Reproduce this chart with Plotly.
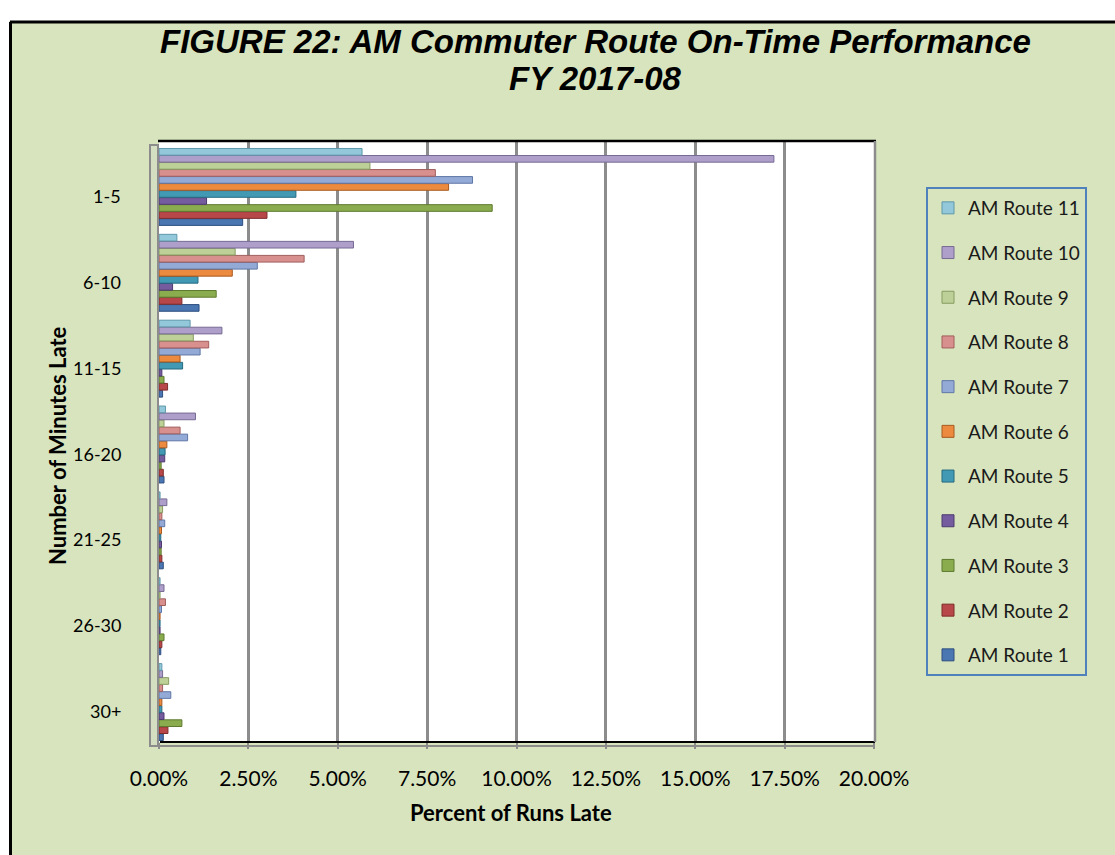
import plotly.graph_objects as go

categories = ["1-5", "6-10", "11-15", "16-20", "21-25", "26-30", "30+"]
routes = ["AM Route 1", "AM Route 2", "AM Route 3", "AM Route 4", "AM Route 5", "AM Route 6",
          "AM Route 7", "AM Route 8", "AM Route 9", "AM Route 10", "AM Route 11"]

# percent of runs late, per category (1-5 ... 30+)
route1 = [2.34, 1.12, 0.10, 0.14, 0.12, 0.05, 0.12]
route2 = [3.02, 0.64, 0.24, 0.12, 0.08, 0.08, 0.25]
route3 = [9.32, 1.60, 0.14, 0.06, 0.06, 0.14, 0.64]
route4 = [1.33, 0.38, 0.08, 0.16, 0.07, 0.03, 0.14]
route5 = [3.83, 1.09, 0.66, 0.17, 0.05, 0.03, 0.08]
route6 = [8.10, 2.05, 0.59, 0.22, 0.07, 0.03, 0.08]
route7 = [8.77, 2.75, 1.15, 0.80, 0.16, 0.07, 0.33]
route8 = [7.73, 4.06, 1.39, 0.59, 0.08, 0.18, 0.10]
route9 = [5.90, 2.13, 0.96, 0.14, 0.10, 0.03, 0.27]
route10 = [17.20, 5.44, 1.76, 1.02, 0.22, 0.14, 0.10]
route11 = [5.68, 0.50, 0.87, 0.18, 0.03, 0.03, 0.08]
series = [route1, route2, route3, route4, route5, route6, route7, route8, route9, route10, route11]

x_ticks = [0, 2.5, 5, 7.5, 10, 12.5, 15, 17.5, 20]

title_line1 = "FIGURE 22: AM Commuter Route On-Time Performance"
title_line2 = "FY 2017-08"

colors = ["#4A76B2", "#B8474A", "#8BAC4E", "#755C9E", "#4299B4", "#EC8A3F",
          "#93AAD6", "#D8908F", "#BDD097", "#AE9ECA", "#92C8DA"]
edges = ["#2E4F80", "#7E2C2A", "#5D7A2E", "#4E3A70", "#256A80", "#A85A20",
         "#6077A6", "#A05E5C", "#879C60", "#776A94", "#5E98AA"]

BG = "#D7E4BD"
L, R, T, B = 159, 874, 141, 742
W, H = 1115, 855


def px2x(px):
    return (px - L) / (R - L)


def py2y(py):
    return (B - py) / (B - T)


fig = go.Figure()
for i, (name, vals) in enumerate(zip(routes, series)):
    fig.add_trace(go.Bar(
        y=categories, x=vals, name=name, orientation="h",
        marker=dict(color=colors[i], line=dict(color=edges[i], width=1)),
        legendgroup=name, legendrank=100 - i,
    ))

font_main = "Lato, Carlito, Calibri, sans-serif"
font_title = "Liberation Sans, Arial, sans-serif"

shapes = [
    # white strips outside black frame
    dict(type="rect", xref="paper", yref="paper", x0=px2x(-5), x1=px2x(W + 5), y0=py2y(21), y1=py2y(-5),
         fillcolor="white", line=dict(width=0), layer="above"),
    dict(type="rect", xref="paper", yref="paper", x0=px2x(-5), x1=px2x(9), y0=py2y(H + 5), y1=py2y(-5),
         fillcolor="white", line=dict(width=0), layer="above"),
    dict(type="line", xref="paper", yref="paper", x0=px2x(10), x1=px2x(W + 5), y0=py2y(22), y1=py2y(22),
         line=dict(color="black", width=3)),
    dict(type="line", xref="paper", yref="paper", x0=px2x(10.5), x1=px2x(10.5), y0=py2y(22), y1=py2y(H + 5),
         line=dict(color="black", width=3)),
    # 3D side wall
    dict(type="rect", xref="paper", yref="paper", x0=px2x(150), x1=px2x(158), y0=py2y(746), y1=py2y(145),
         fillcolor="#D3DFC0", line=dict(color="#8C8C8C", width=2)),
    # floor line
    dict(type="line", xref="paper", yref="paper", x0=px2x(150), x1=px2x(875), y0=py2y(746), y1=py2y(746),
         line=dict(color="#8C8C8C", width=2)),
    # plot frame
    dict(type="line", xref="paper", yref="paper", x0=px2x(158), x1=px2x(876), y0=py2y(141), y1=py2y(141),
         line=dict(color="black", width=2.5)),
    dict(type="line", xref="paper", yref="paper", x0=px2x(160), x1=px2x(875), y0=py2y(742), y1=py2y(742),
         line=dict(color="black", width=2)),
    dict(type="line", xref="paper", yref="paper", x0=px2x(875), x1=px2x(875), y0=py2y(742), y1=py2y(141),
         line=dict(color="#8C8C8C", width=2.5)),
]

# category labels placed slightly below group centres, as in the 3D original
cat_labels = [
    dict(text=c, xref="paper", yref="y", x=px2x(123), y=c, yshift=-9,
         xanchor="right", yanchor="middle", showarrow=False,
         font=dict(family=font_main, size=18, color="black"))
    for c in categories
]

fig.update_layout(
    width=W, height=H,
    margin=dict(l=L, r=W - R, t=T, b=H - B, autoexpand=False),
    paper_bgcolor=BG, plot_bgcolor="white",
    barmode="group", bargap=0.1, bargroupgap=0.05,
    xaxis=dict(
        range=[0, 20], tickvals=x_ticks,
        ticktext=[f"{v:.2f}%" for v in x_ticks],
        showgrid=True, gridcolor="#8C8C8C", gridwidth=2.5, zeroline=False,
        ticks="outside", ticklen=6, tickcolor="#8C8C8C", tickwidth=2,
        ticklabelstandoff=12,
        tickfont=dict(family=font_main, size=21, color="black"),
        fixedrange=True,
    ),
    yaxis=dict(
        categoryorder="array", categoryarray=categories[::-1],
        range=[-0.465, 6.535],
        showgrid=False, zeroline=False, showticklabels=False,
        fixedrange=True,
    ),
    legend=dict(
        x=px2x(926), y=py2y(187), xanchor="left", yanchor="top",
        traceorder="grouped", tracegroupgap=17,
        bgcolor=BG, bordercolor="#4F81BD", borderwidth=2,
        font=dict(family=font_main, size=19, color="#1a1a1a"),
        itemwidth=30,
    ),
    shapes=shapes,
    annotations=cat_labels + [
        dict(text=f"<b><i>{title_line1}</i></b>", xref="paper", yref="paper",
             x=px2x(595), y=py2y(42), xanchor="center", yanchor="middle", showarrow=False,
             font=dict(family=font_title, size=33, color="black")),
        dict(text=f"<b><i>{title_line2}</i></b>", xref="paper", yref="paper",
             x=px2x(595), y=py2y(78), xanchor="center", yanchor="middle", showarrow=False,
             font=dict(family=font_title, size=33, color="black")),
        dict(text="<b>Percent of Runs Late</b>", xref="paper", yref="paper",
             x=px2x(511), y=py2y(813), xanchor="center", yanchor="middle", showarrow=False,
             font=dict(family=font_main, size=22, color="black")),
        dict(text="<b>Number of Minutes Late</b>", xref="paper", yref="paper",
             x=px2x(57), y=py2y(446), xanchor="center", yanchor="middle", showarrow=False,
             textangle=-90, font=dict(family=font_main, size=22, color="black")),
    ],
)

fig.write_html("out.html", config={"displayModeBar": False},
               post_script="document.body.style.margin='0';document.body.style.overflow='hidden';")
